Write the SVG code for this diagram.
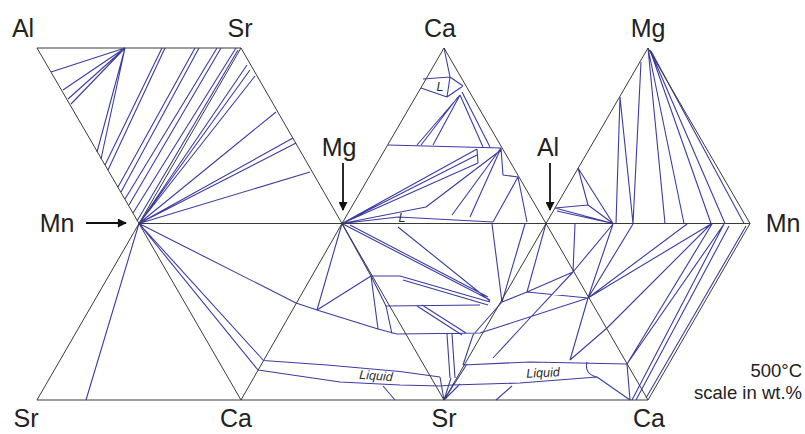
<svg xmlns="http://www.w3.org/2000/svg" width="805" height="434" viewBox="0 0 805 434">
<style>
.e{fill:none;stroke:#3a3a3a;stroke-width:1}
.t{fill:none;stroke:#3c3ca2;stroke-width:1.1;stroke-linejoin:round}
.lab{font-family:"Liberation Sans",Arial,sans-serif;font-size:25px;fill:#222;text-anchor:middle}
.note{font-family:"Liberation Sans",Arial,sans-serif;font-size:18.5px;fill:#222;text-anchor:end}
.liq{font-family:"Liberation Sans",Arial,sans-serif;font-size:12.5px;font-style:italic;fill:#2a2a2a;text-anchor:middle}
.arr{stroke:#111;stroke-width:1.8;fill:none}
</style>
<defs>
<marker id="ah" viewBox="0 0 10 10" refX="9" refY="5" markerWidth="5.5" markerHeight="5" orient="auto" markerUnits="strokeWidth">
<path d="M0,0 L10,5 L0,10 Z" fill="#111"/>
</marker>
</defs>
<rect width="805" height="434" fill="#fff"/>
<g id="tielines">
<path class="t" d="M139,223.5 H342
M125,48 L51,72 M125,48 L63,90 M125,48 L68,99 M125,48 L71,104 M125,48 L97,152 M125,48 L101,159
M162,48 L105,165 M165,48 L108,170 M195,48 L118,187 M199,48 L121,192 M217,48 L125,199 M221,48 L129,205 M236,48 L133,213 M238,50 L137,221
M139,223.5 L247,65 M139,223.5 L250,70 M139,223.5 L255,76 M139,223.5 L276,112 M139,223.5 L293,138 M139,223.5 L296,143 M139,223.5 L310,172
M139,223.5 L86,400
M139,223.5 L296,303 M139,223.5 L263.5,360.5 M139,223.5 L258,370
M296,303 L317,310 L378,329 L397,334 L480,333 L502,326 L588,298
M342,223.5 L317,310 L371,276 M342,223.5 L371,276 M371,276 L400,276 M371,276 L378,329 M371,276 L386,306 L392,334 M386,306 L480,305
M400,276 L490,302 M403,280 L488,305 M342,223.5 L490,300 M350,225 L488,297 M398,227 L490,301
M417,306 L462,335 M422,305 L466,333 M447,334 L450,378 M452,334 L455,378
M492,224 L502,302 M525,224 L502,302 M502,302 L527,292 L573,272 M546,223.5 L527,292 M527,292 L588,298
M473,335 L502,302 M463,365 L473,335 M493,358 L530,318 L573,272 M570,360 L588,298 M570,360 L607,328
M263.5,360.5 L327,365 L400,371.5 L440,377 M258,370 L340,382 L400,385 L440,386 M383,386 L395,400
M444,400 L440,377 M444,400 L451,378 M444,400 L467,364 M444,400 L460,384 M440,386 L452,385
M463,365 L530,362 L627,364 M587,362 Q584,374 597,377 M452,385 L520,383 L597,377 M597,377 L630,400 M627,364 L630,400 M496,400 L512,386
M423,79 L450,77 M421,88 L447,97 M450,77 L447,97 M444,48 L450,77 M450,77 L463,86 M447,97 L463,86
M460,95 L417,145 M458,97 L421,145 M460,95 L433,145 M460,95 L483,147 M462,92 L490,147
M388,145 L501,148 M477,149 L478,163 M501,148 L503,175 L518,177
M342,223.5 L477,149 M342,223.5 L477,155 M342,223.5 L478,163 M342,223.5 L426,207 M426,207 L501,150 M501,148 L452,215 M501,148 L470,217 M518,177 L493,222 M518,177 L527,222 M398,217 L493,222 M342,223.5 L398,217
M648,48 L665,223.5 M648,48 L684,223.5 M650,50 L711,223.5 M650,50 L725,223.5 M651,51 L744,223.5
M620,97 L616,223.5 M620,97 L633,223.5 M641,62 L633,223.5
M578,168 L588,205 L613,223.5 M578,168 L613,223.5 M555,208 L588,205 M555,208 L613,223.5 M557,211 L613,223.5
M575,224 L573,272 M573,272 L613,224 M588,298 L613,224 M588,298 L633,224 M588,298 L687,224 M588,298 L711,224 M607,328 L711,224
M627,364 L712,224 M627,364 L724,224 M632,400 L724,224 M636,400 L729,226 M746,226 L646,398"/>
</g>
<g id="triangles">
<path class="e" d="M37,48 H241 L139,223.5 Z M241,48 L342,223.5 M139,223.5 H750 M342,223.5 L444,48 L546,223.5 M546,223.5 L648,48 L750,223.5 M37,400 H648 M139,223.5 L37,400 M139,223.5 L241,400 L342,223.5 L444,400 L546,223.5 L648,400 L750,223.5"/>
</g>
<g id="labels">
<text class="lab" x="23" y="37">Al</text>
<text class="lab" x="240" y="37">Sr</text>
<text class="lab" x="440" y="37">Ca</text>
<text class="lab" x="648" y="37">Mg</text>
<text class="lab" x="57" y="232">Mn</text>
<text class="lab" x="339" y="156">Mg</text>
<text class="lab" x="548" y="156">Al</text>
<text class="lab" x="783" y="232">Mn</text>
<text class="lab" x="26" y="427">Sr</text>
<text class="lab" x="236" y="427">Ca</text>
<text class="lab" x="444" y="427">Sr</text>
<text class="lab" x="649" y="427">Ca</text>
<text class="note" x="802" y="377">500°C</text>
<text class="note" x="802" y="399">scale in wt.%</text>
<text class="liq" x="376" y="380" transform="rotate(4 376 376)">Liquid</text>
<text class="liq" x="543" y="377" transform="rotate(-3 543 372)">Liquid</text>
<text class="liq" x="440" y="91" font-size="10">L</text>
<text class="liq" x="402" y="222" font-size="6">L</text>
</g>
<g id="arrows">
<path class="arr" d="M86,223 H126" marker-end="url(#ah)"/>
<path class="arr" d="M343,163 V210" marker-end="url(#ah)"/>
<path class="arr" d="M550,163 V210" marker-end="url(#ah)"/>
</g>
</svg>
